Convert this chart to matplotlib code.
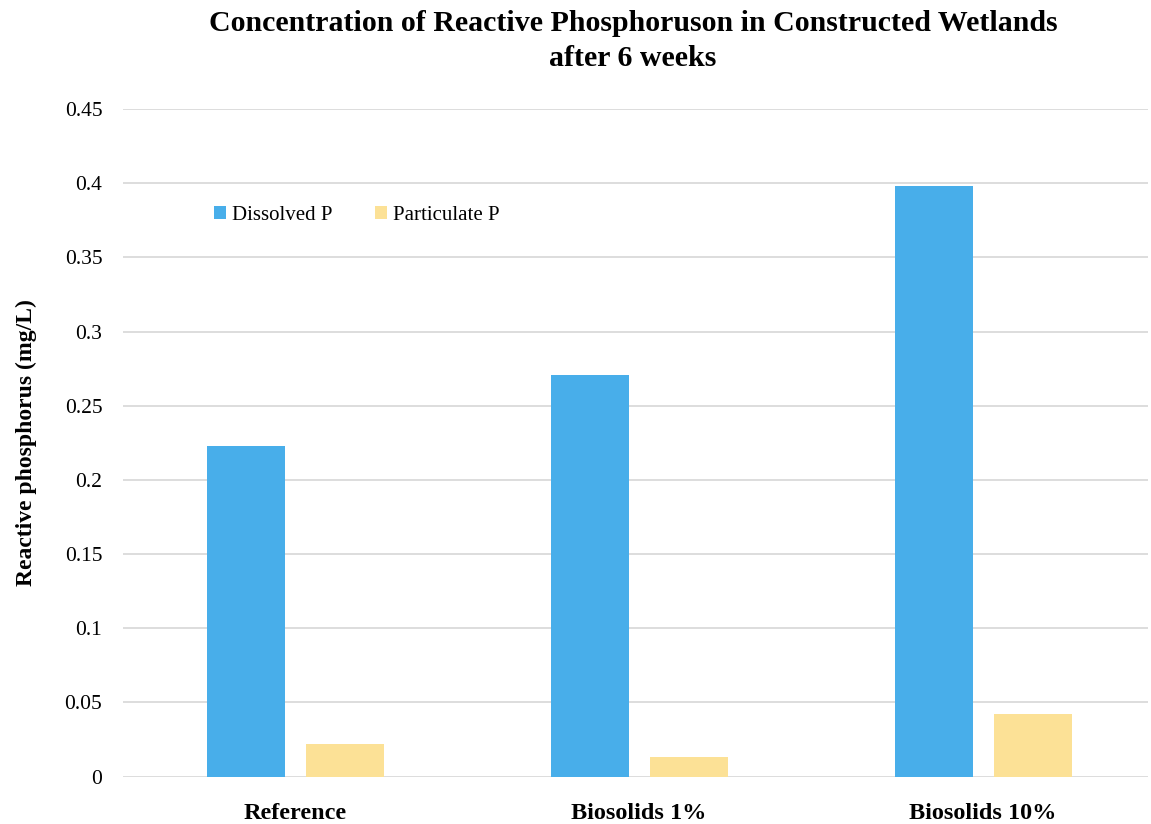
import numpy as np
import matplotlib
matplotlib.use("Agg")
import matplotlib.pyplot as plt

# reactive phosphorus after 6 weeks (mg/L)
treatments = ["Reference", "Biosolids 1%", "Biosolids 10%"]
dissolved_p = [0.223, 0.2705, 0.3985]
particulate_p = [0.022, 0.013, 0.042]
yticks = [0, 0.05, 0.1, 0.15, 0.2, 0.25, 0.3, 0.35, 0.4, 0.45]
ytick_labels = ["0", "0.05", "0.1", "0.15", "0.2", "0.25", "0.3", "0.35", "0.4", "0.45"]

plt.rcParams["font.family"] = ["Liberation Serif", "DejaVu Serif"]

fig = plt.figure(figsize=(11.51, 8.24), dpi=100)
ax = fig.add_axes([0.107, 0.0575, 0.8905, 0.81])

x = np.arange(len(treatments))
w = 0.225
ax.bar(x - 0.1425, dissolved_p, w, color="#48AEEA", label="Dissolved P", zorder=3)
ax.bar(x + 0.145, particulate_p, w, color="#FCE196", label="Particulate P", zorder=3)

ax.set_xlim(-0.5, 2.48)
ax.set_ylim(0, 0.45)
ax.set_yticks(yticks)
ax.set_yticklabels(ytick_labels)
ax.set_xticks(x)
ax.set_xticklabels(treatments, fontweight="bold", fontsize=17.5)
ax.tick_params(axis="y", length=0, pad=15, labelsize=15.5)
ax.tick_params(axis="x", length=0, pad=19)
ax.grid(axis="y", color="#DADADA", linewidth=1.3, zorder=0)
for s in ax.spines.values():
    s.set_visible(False)

ax.set_ylabel("Reactive phosphorus (mg/L)", fontweight="bold", fontsize=17, labelpad=20)

ax.legend(loc="upper left", bbox_to_anchor=(0.07, 0.883), ncol=2, frameon=False,
          fontsize=15, handlelength=0.6, handleheight=0.6, handletextpad=0.3,
          columnspacing=2.0)

fig.text(0.55, 0.988, "Concentration of Reactive Phosphoruson in Constructed Wetlands\nafter 6 weeks",
         ha="center", va="top", fontsize=21.5, fontweight="bold", linespacing=1.38)

fig.savefig("out.png", dpi=100)
